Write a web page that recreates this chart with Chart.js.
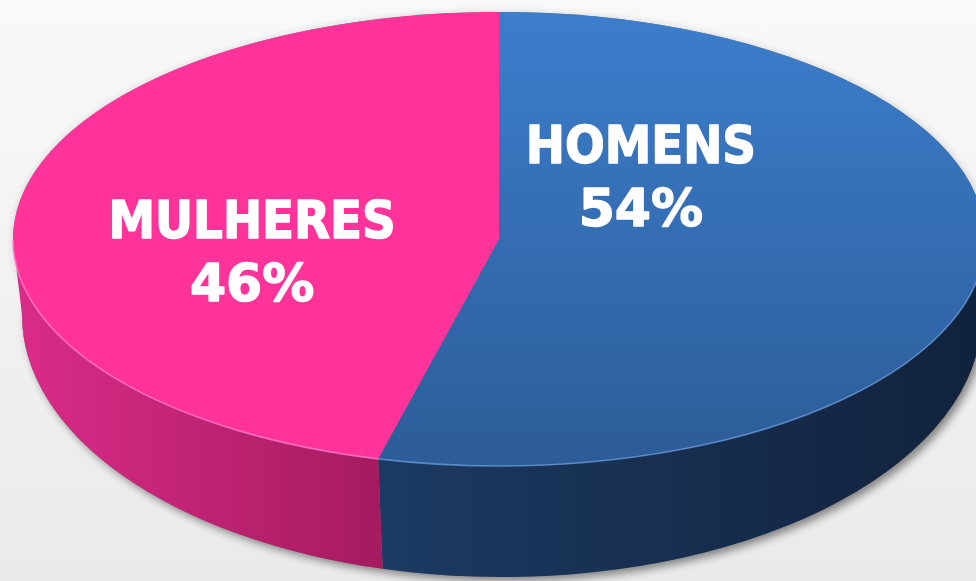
<!DOCTYPE html>
<html><head><meta charset="utf-8">
<script src="https://cdn.jsdelivr.net/npm/chart.js@4.4.1/dist/chart.umd.min.js"></script>
<style>
html,body{margin:0;padding:0;width:976px;height:581px;overflow:hidden;
background:linear-gradient(to bottom,#f9f9f9 0%,#f4f4f4 35%,#eaeaea 100%);}
#wrap{position:relative;width:976px;height:581px;}
canvas{display:block;}
</style></head><body>
<div id="wrap"><canvas id="c" width="976" height="581"></canvas></div>
<script>
// ---- data ----
const categories = ['HOMENS', 'MULHERES'];
const values = [54, 46];

// ---- styles ----
const topColors  = [['#3C7ECC', '#2C5C98'], ['#FF3399', '#FF3399']];
const sideColors = [['#1C3A63', '#11223B'], ['#DA2C89', '#A61B60']];
const edgeColors = ['rgba(110,160,225,0.7)', 'rgba(255,120,200,0.8)'];
const labelAnchors = [{dx: 0.292, dy: -0.156}, {dx: -0.508, dy: -0.002}];

const RADIUS = 486;
const geom = {tilt: 227 / 486, botDx: 3 / 486, botDy: 76 / 486, botRx: 480 / 486, botRy: 262 / 486};

function wallRanges(s, e) {
  const out = [];
  for (const sh of [-2 * Math.PI, 0, 2 * Math.PI]) {
    const lo = Math.max(s, sh), hi = Math.min(e, Math.PI + sh);
    if (hi > lo) out.push([lo - sh, hi - sh]);
  }
  return out;
}

const pie3d = {
  id: 'pie3d',
  beforeDatasetsDraw(chart) {
    const ctx = chart.ctx;
    const arcs = chart.getDatasetMeta(0).data;
    if (!arcs.length) return;
    const ax = arcs[0].x, ay = arcs[0].y, R = arcs[0].outerRadius;
    const ry = R * geom.tilt;
    const bx = ax + R * geom.botDx, by = ay + R * geom.botDy, brx = R * geom.botRx, bry = R * geom.botRy;
    chart.$g = {ax, ay, R, ry, bx, by, brx, bry};
    // shadow pass
    ctx.save();
    ctx.fillStyle = '#777';
    ctx.shadowColor = 'rgba(0,0,0,0.45)'; ctx.shadowBlur = 9; ctx.shadowOffsetX = 4; ctx.shadowOffsetY = 4;
    ctx.beginPath(); ctx.ellipse(bx, by, brx, bry, 0, 0, 2 * Math.PI); ctx.fill();
    ctx.shadowColor = 'rgba(0,0,0,0.18)'; ctx.shadowBlur = 8; ctx.shadowOffsetX = 1; ctx.shadowOffsetY = 1;
    ctx.beginPath(); ctx.ellipse(ax, ay, R, ry, 0, 0, 2 * Math.PI); ctx.fill();
    ctx.restore();
    // side walls
    arcs.forEach((arc, i) => {
      wallRanges(arc.startAngle, arc.endAngle).forEach(([lo, hi]) => {
        const xl = ax + R * Math.cos(hi), xr = ax + R * Math.cos(lo);
        const g = ctx.createLinearGradient(xl, 0, xr, 0);
        g.addColorStop(0, sideColors[i][0]); g.addColorStop(1, sideColors[i][1]);
        ctx.save();
        ctx.fillStyle = g;
        ctx.beginPath();
        ctx.ellipse(ax, ay, R, ry, 0, lo, hi, false);
        ctx.ellipse(bx, by, brx, bry, 0, hi, lo, true);
        ctx.closePath();
        ctx.fill();
        ctx.restore();
      });
    });
    // squash the top face drawn by Chart.js
    ctx.save();
    ctx.translate(ax, ay); ctx.scale(1, geom.tilt); ctx.translate(-ax, -ay);
  },
  afterDatasetsDraw(chart) {
    const ctx = chart.ctx;
    const arcs = chart.getDatasetMeta(0).data;
    if (!arcs.length) return;
    ctx.restore();
    const {ax, ay, R, ry} = chart.$g;
    // front edge highlight
    arcs.forEach((arc, i) => {
      wallRanges(arc.startAngle, arc.endAngle).forEach(([lo, hi]) => {
        ctx.save();
        ctx.strokeStyle = edgeColors[i]; ctx.lineWidth = 1.6;
        ctx.beginPath(); ctx.ellipse(ax, ay, R, ry, 0, lo, hi, false); ctx.stroke();
        ctx.restore();
      });
    });
    // labels
    const total = values.reduce((a, b) => a + b, 0);
    ctx.save();
    ctx.fillStyle = '#ffffff'; ctx.strokeStyle = '#ffffff'; ctx.lineWidth = 1.4; ctx.lineJoin = 'round';
    ctx.textAlign = 'center'; ctx.textBaseline = 'alphabetic';
    chart.data.labels.forEach((lab, i) => {
      const p = labelAnchors[i];
      const x = ax + p.dx * R, y = ay + p.dy * R;
      ctx.font = 'bold 52px "DejaVu Sans Condensed", "DejaVu Sans", sans-serif';
      try { ctx.fontStretch = 'condensed'; } catch (e) {}
      ctx.fillText(lab, x, y); ctx.strokeText(lab, x, y);
      const pct = Math.round(values[i] / total * 100) + '%';
      ctx.font = 'bold 52px "DejaVu Sans", sans-serif';
      try { ctx.fontStretch = 'normal'; } catch (e) {}
      ctx.fillText(pct, x, y + 63); ctx.strokeText(pct, x, y + 63);
    });
    ctx.restore();
  }
};

function topFill(context) {
  const i = context.dataIndex;
  const ca = context.chart.chartArea;
  if (!ca) return topColors[i][0];
  const cy = (ca.top + ca.bottom) / 2;
  const g = context.chart.ctx.createLinearGradient(0, cy - RADIUS, 0, cy + RADIUS);
  g.addColorStop(0, topColors[i][0]); g.addColorStop(1, topColors[i][1]);
  return g;
}

new Chart(document.getElementById('c'), {
  type: 'pie',
  data: {
    labels: categories,
    datasets: [{
      data: values,
      backgroundColor: topFill,
      borderWidth: 0,
      radius: RADIUS,
      clip: false
    }]
  },
  options: {
    responsive: false,
    devicePixelRatio: 1,
    animation: false,
    events: [],
    layout: {padding: {left: 22, right: 0, top: 0, bottom: 103}},
    plugins: {legend: {display: false}, tooltip: {enabled: false}}
  },
  plugins: [pie3d]
});
</script>
</body></html>
